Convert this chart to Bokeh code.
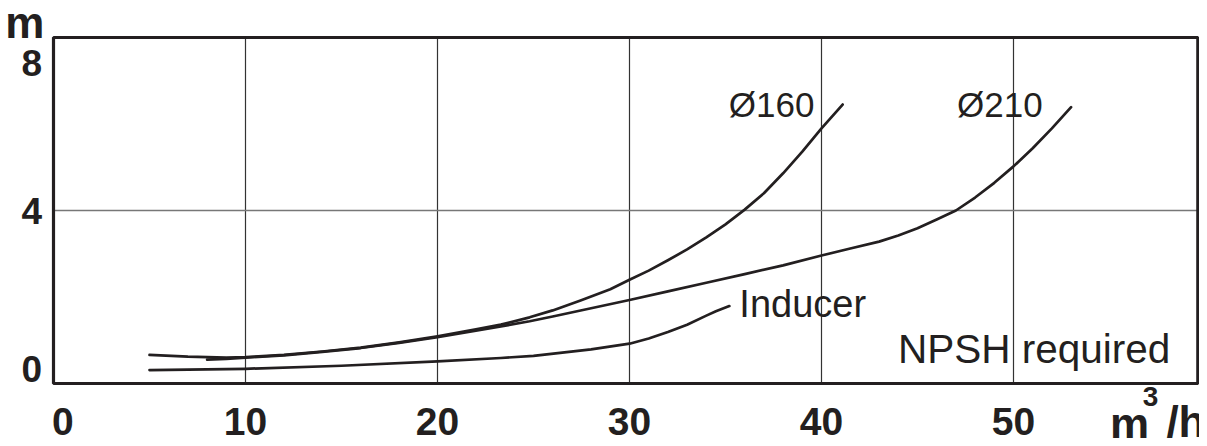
from bokeh.plotting import figure
from bokeh.models import Range1d
from bokeh.core.properties import value
from bokeh.embed import file_html
from bokeh.resources import INLINE

# ---- data ----
q_d160 = [5, 7, 9, 10, 12, 14, 16, 18, 20, 22, 23.3, 24.8, 26, 27.45, 29, 30, 31, 32, 33, 34, 35, 36, 37, 38, 39, 40, 41.1]
h_d160 = [0.66, 0.62, 0.60, 0.61, 0.66, 0.74, 0.83, 0.95, 1.09, 1.25, 1.36, 1.53, 1.69, 1.92, 2.18, 2.40, 2.61, 2.85, 3.10, 3.38, 3.68, 4.02, 4.40, 4.86, 5.36, 5.90, 6.45]

q_d210 = [8, 9, 10, 12, 14, 16, 18, 20, 22, 23.3, 24.8, 26, 28, 30, 32, 34, 36, 38, 40, 41.5, 43, 44, 45, 46, 47, 48, 49, 50, 51, 52, 53]
h_d210 = [0.55, 0.57, 0.60, 0.65, 0.73, 0.82, 0.94, 1.07, 1.22, 1.32, 1.44, 1.55, 1.74, 1.93, 2.13, 2.33, 2.53, 2.73, 2.96, 3.12, 3.28, 3.42, 3.59, 3.79, 4.00, 4.30, 4.64, 5.02, 5.44, 5.90, 6.39]

q_ind = [5, 10, 15, 20, 23.3, 25, 28, 30, 31, 32, 33, 34, 34.5, 35.2]
h_ind = [0.31, 0.34, 0.41, 0.51, 0.59, 0.64, 0.79, 0.92, 1.04, 1.19, 1.36, 1.57, 1.67, 1.79]

x_axis_min, x_axis_max = 0, 59.6      # chart frame (right edge limited by the window)
y_axis_min, y_axis_max = 0, 8
x_grid = [10, 20, 30, 40, 50]
y_grid = [4]
x_tick_values = [10, 20, 30, 40, 50]
x_tick_labels = ["10", "20", "30", "40", "50"]
x_zero_label = "0"
y_tick_labels = ["0", "4", "8"]

curve_labels = ["Ø160", "Ø210"]
INK = "#231f20"
FONT = "Liberation Sans"

W, H = 1199, 438
PX_X, PX_Y = 19.2, 43.25          # pixels per unit
X0, Y0 = 53, 383                  # pixel position of the origin

p = figure(width=W, height=H, output_backend="svg", toolbar_location=None,
           x_range=Range1d(-X0 / PX_X, (W - X0) / PX_X),
           y_range=Range1d((Y0 - H) / PX_Y, Y0 / PX_Y),
           x_axis_location=None, y_axis_location=None, min_border=0,
           background_fill_color="white", border_fill_color="white")
p.center = []
p.outline_line_color = None

# grid lines
p.segment(x0=x_grid, y0=[y_axis_min] * len(x_grid), x1=x_grid, y1=[y_axis_max] * len(x_grid),
          line_color="#333333", line_width=1.2)
p.segment(x0=[x_axis_min] * len(y_grid), y0=y_grid, x1=[x_axis_max] * len(y_grid), y1=y_grid,
          line_color="#777777", line_width=1.7)

# frame
p.quad(left=[x_axis_min], right=[x_axis_max], bottom=[y_axis_min], top=[y_axis_max],
       fill_color=None, line_color=INK, line_width=3.2)

# curves
for q, h in ((q_d160, h_d160), (q_d210, h_d210), (q_ind, h_ind)):
    p.line(q, h, line_color=INK, line_width=2.7, line_join="round", line_cap="round")

def txt(xs, ys, ts, size, bold=False, align="left"):
    p.text(x=xs, y=ys, text=ts, text_font=value(FONT), text_font_size=value(size),
           text_font_style="bold" if bold else "normal", text_color=INK,
           text_align=align, text_baseline="middle")

XLAB_Y = -0.88
# x tick labels
txt([-0.08], [XLAB_Y], [x_zero_label], "39px", True, "left")
txt(x_tick_values, [XLAB_Y] * len(x_tick_values), x_tick_labels, "39px", True, "center")

# y tick labels (placed inside the range as in the reference)
txt([-0.6] * 3, [0.324, 3.984, 7.415], y_tick_labels, "37px", True, "right")

# units
txt([-0.48], [8.342], ["m"], "44px", True, "right")
txt([55.03], [-0.93], ["m"], "44px", True, "left")
txt([57.14], [-0.31], ["3"], "28px", True, "center")
txt([60.0], [-0.87], ["/h"], "44px", True, "right")

# curve labels
txt([35.17, 47.06], [6.444, 6.444], curve_labels, "35px")
txt([35.72], [1.838], ["Inducer"], "38px")
txt([43.98], [0.798], ["NPSH required"], "40.5px")

open("out.html", "w").write(file_html(p, INLINE))
